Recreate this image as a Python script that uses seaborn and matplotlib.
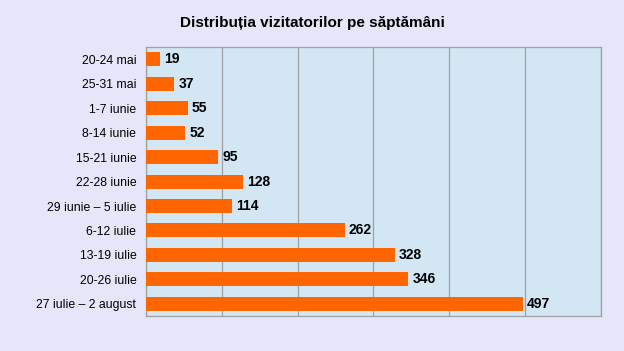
import pandas as pd
import matplotlib
matplotlib.use("Agg")
import matplotlib.pyplot as plt
import seaborn as sns

saptamani = ["20-24 mai", "25-31 mai", "1-7 iunie", "8-14 iunie", "15-21 iunie",
             "22-28 iunie", "29 iunie – 5 iulie", "6-12 iulie", "13-19 iulie",
             "20-26 iulie", "27 iulie – 2 august"]
vizitatori = [19, 37, 55, 52, 95, 128, 114, 262, 328, 346, 497]

df = pd.DataFrame({"saptamana": saptamani, "vizitatori": vizitatori})

sns.set_theme(style="white")
plt.rcParams['font.family'] = ['Liberation Sans', 'DejaVu Sans']

fig = plt.figure(figsize=(6.24, 3.51), dpi=100, facecolor="#E6E6FA")
ax = fig.add_axes([0.234, 0.0997, 0.729, 0.766])
ax.set_facecolor("#D2E6F3")

sns.barplot(data=df, y="saptamana", x="vizitatori", color="#FF6600",
            saturation=1, width=0.57, linewidth=0, ax=ax, zorder=3)
ax.bar_label(ax.containers[0], padding=3, fontsize=10, fontweight="bold", color="black")

ax.set_xlim(0, 600)
ax.set_xticks(range(0, 601, 100))
ax.set_xticklabels([])
ax.tick_params(axis="x", length=0)
ax.grid(axis="x", color="#A0A0A0", linewidth=0.9, zorder=0)
ax.set_axisbelow(True)

ax.set_ylim(10.5, -0.5)
ax.set_yticks([i + 0.5 for i in range(-1, 11)], minor=True)
ax.tick_params(axis="y", which="minor", length=5, color="#A0A0A0", width=0.9)
ax.tick_params(axis="y", which="major", length=0, labelsize=8.8, pad=7, labelcolor="black")

for s in ax.spines.values():
    s.set_color("#A0A0A0")
    s.set_linewidth(0.9)

ax.set_xlabel("")
ax.set_ylabel("")
fig.suptitle("Distribuția vizitatorilor pe săptămâni", fontsize=11, fontweight="bold",
             y=0.955, color="black")

plt.savefig("out.png", dpi=100, facecolor=fig.get_facecolor())
plt.close()
